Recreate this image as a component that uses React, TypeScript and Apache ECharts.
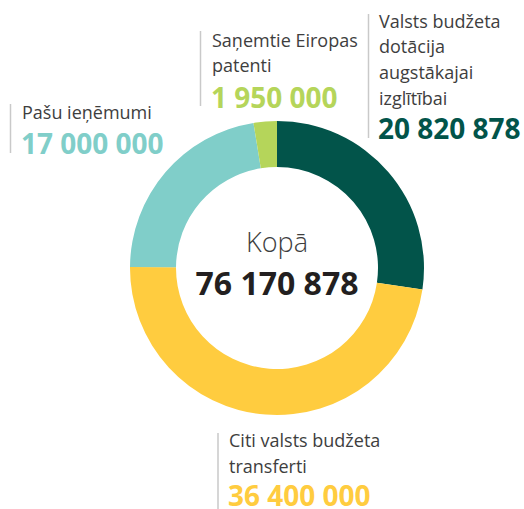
import React, { useEffect, useRef } from "react";
import * as echarts from "echarts";

const categories = [
  "Valsts budžeta dotācija augstākajai izglītībai",
  "Citi valsts budžeta transferti",
  "Pašu ieņēmumi",
  "Saņemtie Eiropas patenti",
];
const values = [20820878, 36400000, 17000000, 1950000];
const labelLines = [
  ["Valsts budžeta", "dotācija", "augstākajai", "izglītībai"],
  ["Citi valsts budžeta", "transferti"],
  ["Pašu ieņēmumi"],
  ["Saņemtie Eiropas", "patenti"],
];
const colors = ["#02544A", "#FFCC3F", "#80CEC9", "#B5D55A"];
const totalLabel = "Kopā";

const FONT = "'Open Sans', 'Noto Sans', sans-serif";
const fmt = (n: number) => String(n).replace(/\B(?=(\d{3})+(?!\d))/g, " ");

// label layout: x of rule line, rule y range, text x, first line center y
const layout = [
  { lx: 368.5, ly1: 14, ly2: 138, tx: 379, ty: 20.5, ny: 128 },
  { lx: 218, ly1: 433, ly2: 509, tx: 229, ty: 440, ny: 494.5 },
  { lx: 10.5, ly1: 104, ly2: 153, tx: 22, ty: 111.5, ny: 143 },
  { lx: 200.5, ly1: 31, ly2: 106, tx: 212, ty: 39.5, ny: 96.5 },
];
const LINE_STEP = 25.7;

export default function App() {
  const ref = useRef<HTMLDivElement>(null);
  useEffect(() => {
    if (!ref.current) return;
    const chart = echarts.init(ref.current, null, { renderer: "svg" });
    const total = values.reduce((a, b) => a + b, 0);
    const graphics: any[] = [];
    categories.forEach((_, i) => {
      const L = layout[i];
      graphics.push({
        type: "line",
        silent: true,
        shape: { x1: L.lx, y1: L.ly1, x2: L.lx, y2: L.ly2 },
        style: { stroke: "#C9C9C9", lineWidth: 1.5 },
      });
      labelLines[i].forEach((t, j) => {
        graphics.push({
          type: "text",
          silent: true,
          x: L.tx,
          y: L.ty + j * LINE_STEP,
          style: {
            text: t,
            font: `400 18px ${FONT}`,
            fill: "#3E3E3E",
            textAlign: "left",
            textVerticalAlign: "middle",
            lineHeight: 20,
          },
        });
      });
      graphics.push({
        type: "text",
        silent: true,
        x: L.tx - 1,
        y: L.ny,
        style: {
          text: fmt(values[i]),
          font: `700 28px ${FONT}`,
          fill: colors[i],
          textAlign: "left",
          textVerticalAlign: "middle",
          lineHeight: 22,
        },
      });
    });
    graphics.push({
      type: "text",
      silent: true,
      x: 277,
      y: 241,
      style: {
        text: totalLabel,
        font: `300 27px ${FONT}`,
        fill: "#3E3E3E",
        textAlign: "center",
        textVerticalAlign: "middle",
      },
    });
    graphics.push({
      type: "text",
      silent: true,
      x: 277,
      y: 282,
      style: {
        text: fmt(total),
        font: `700 32px ${FONT}`,
        fill: "#231F20",
        textAlign: "center",
        textVerticalAlign: "middle",
      },
    });

    chart.setOption({
      animation: false,
      backgroundColor: "#ffffff",
      series: [
        {
          type: "pie",
          radius: [101, 147],
          center: [277, 268],
          startAngle: 90,
          clockwise: true,
          silent: true,
          avoidLabelOverlap: false,
          label: { show: false },
          labelLine: { show: false },
          itemStyle: { borderWidth: 0 },
          data: categories.map((c, i) => ({
            name: c,
            value: values[i],
            itemStyle: { color: colors[i] },
          })),
        },
      ],
      graphic: graphics,
    });
    return () => chart.dispose();
  }, []);
  return (
    <div
      ref={ref}
      style={{ position: "absolute", left: 0, top: 0, width: 524, height: 509 }}
    />
  );
}
